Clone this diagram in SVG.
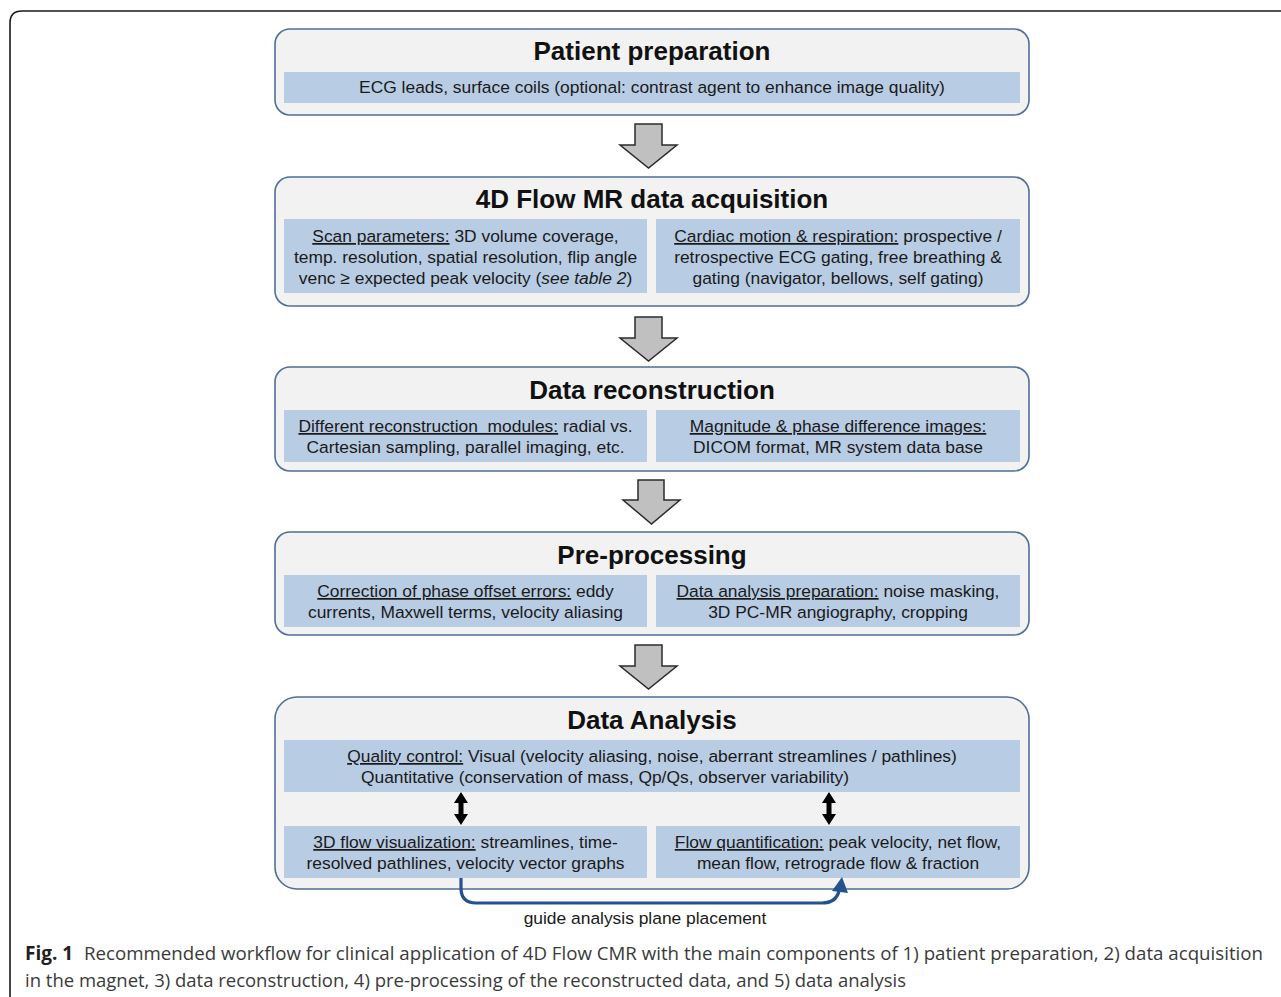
<svg xmlns="http://www.w3.org/2000/svg" width="1281" height="997" viewBox="0 0 1281 997">
<style>
.frame{fill:none;stroke:#1a1a1a;stroke-width:1.6}
.box{fill:#f2f2f2;stroke:#4f6f99;stroke-width:1.6}
.band{fill:#b8cce4}
.title{font-family:"Liberation Sans",Arial,sans-serif;font-weight:bold;font-size:26px;fill:#111;text-anchor:middle}
.body{font-family:"Liberation Sans",Arial,sans-serif;font-size:17.4px;fill:#1a1a1a;text-anchor:middle}
.u{text-decoration:underline}
.blk{fill:#c0c0c0;stroke:#2b2b2b;stroke-width:1.5;stroke-linejoin:miter}
.dbl{fill:#000}
.guide{fill:none;stroke:#23528f;stroke-width:3.2}
.cap{font-family:"Open Sans","Noto Sans",sans-serif;font-size:19px;fill:#3a3a3a}
.capb{font-family:"Open Sans","Noto Sans",sans-serif;font-size:19px;font-weight:bold;fill:#231f20}
</style>
<rect width="1281" height="997" fill="#fff"/>
<path class="frame" d="M10,1010 L10,23 Q10,11 22,11 L1300,11"/>

<g id="patient-preparation">
<rect class="box" x="275" y="29" width="754" height="86" rx="15"/>
<rect class="band" x="284" y="72" width="736" height="31"/>
<text class="title" x="652" y="60">Patient preparation</text>
<text class="body" x="652" y="93">ECG leads, surface coils (optional: contrast agent to enhance image quality)</text>
</g>

<g id="acquisition">
<rect class="box" x="275" y="177" width="754" height="129" rx="15"/>
<rect class="band" x="284" y="219" width="363" height="74"/>
<rect class="band" x="656" y="219" width="364" height="74"/>
<text class="title" x="652" y="208">4D Flow MR data acquisition</text>
<text class="body" x="465.5" y="242"><tspan class="u">Scan parameters:</tspan> 3D volume coverage,</text>
<text class="body" x="465.5" y="263">temp. resolution, spatial resolution, flip angle</text>
<text class="body" x="465.5" y="284">venc ≥ expected peak velocity (<tspan font-style="italic">see table 2</tspan>)</text>
<text class="body" x="838" y="242"><tspan class="u">Cardiac motion &amp; respiration:</tspan> prospective /</text>
<text class="body" x="838" y="263">retrospective ECG gating, free breathing &amp;</text>
<text class="body" x="838" y="284">gating (navigator, bellows, self gating)</text>
</g>

<g id="reconstruction">
<rect class="box" x="275" y="367" width="754" height="104" rx="15"/>
<rect class="band" x="284" y="410" width="363" height="52"/>
<rect class="band" x="656" y="410" width="364" height="52"/>
<text class="title" x="652" y="399">Data reconstruction</text>
<text class="body" x="465.5" y="432"><tspan class="u" xml:space="preserve">Different reconstruction  modules:</tspan> radial vs.</text>
<text class="body" x="465.5" y="453">Cartesian sampling, parallel imaging, etc.</text>
<text class="body" x="838" y="432"><tspan class="u">Magnitude &amp; phase difference images:</tspan></text>
<text class="body" x="838" y="453">DICOM format, MR system data base</text>
</g>

<g id="pre-processing">
<rect class="box" x="275" y="532" width="754" height="103" rx="15"/>
<rect class="band" x="284" y="575" width="363" height="52"/>
<rect class="band" x="656" y="575" width="364" height="52"/>
<text class="title" x="652" y="564">Pre-processing</text>
<text class="body" x="465.5" y="597"><tspan class="u">Correction of phase offset errors:</tspan> eddy</text>
<text class="body" x="465.5" y="618">currents, Maxwell terms, velocity aliasing</text>
<text class="body" x="838" y="597"><tspan class="u">Data analysis preparation:</tspan> noise masking,</text>
<text class="body" x="838" y="618">3D PC-MR angiography, cropping</text>
</g>

<g id="data-analysis">
<rect class="box" x="275" y="697" width="754" height="192" rx="22"/>
<text class="title" x="652" y="729">Data Analysis</text>
<g id="quality-control">
<rect class="band" x="284" y="740" width="736" height="52"/>
<text class="body" x="652" y="762"><tspan class="u">Quality control:</tspan> Visual (velocity aliasing, noise, aberrant streamlines / pathlines)</text>
<text class="body" x="361" y="783" style="text-anchor:start">Quantitative (conservation of mass, Qp/Qs, observer variability)</text>
</g>
<g id="flow-visualization">
<rect class="band" x="284" y="826" width="363" height="52"/>
<text class="body" x="465.5" y="848"><tspan class="u">3D flow visualization:</tspan> streamlines, time-</text>
<text class="body" x="465.5" y="869">resolved pathlines, velocity vector graphs</text>
</g>
<g id="flow-quantification">
<rect class="band" x="656" y="826" width="364" height="52"/>
<text class="body" x="838" y="848"><tspan class="u">Flow quantification:</tspan> peak velocity, net flow,</text>
<text class="body" x="838" y="869">mean flow, retrograde flow &amp; fraction</text>
</g>
</g>

<g id="connectors">
<polygon class="blk" points="635,124 662,124 662,145 677,145 648.5,168 620,145 635,145"/>
<polygon class="blk" points="635,317 662,317 662,338 677,338 648.5,361 620,338 635,338"/>
<polygon class="blk" points="638,480 664,480 664,500 680,500 651.5,524 623,500 638,500"/>
<polygon class="blk" points="635,645 662,645 662,666 677,666 648.5,689 620,666 635,666"/>
<path class="dbl" d="M461,792 L468,803 L463.5,803 L463.5,814 L468,814 L461,825 L454,814 L458.5,814 L458.5,803 L454,803 Z"/>
<path class="dbl" d="M829,792 L836,803 L831.5,803 L831.5,814 L836,814 L829,825 L822,814 L826.5,814 L826.5,803 L822,803 Z"/>
<path class="guide" d="M461,878 L461,888 Q461,903 476,903 L822,903 Q836,903 839,891"/>
<polygon fill="#23528f" points="842,877 848,893 832,891"/>
<text class="body" x="645" y="924">guide analysis plane placement</text>
</g>

<g id="caption">
<text class="capb" x="25" y="960">Fig. 1</text>
<text class="cap" x="84" y="960" textLength="1179" lengthAdjust="spacingAndGlyphs">Recommended workflow for clinical application of 4D Flow CMR with the main components of 1) patient preparation, 2) data acquisition</text>
<text class="cap" x="25" y="987" textLength="881" lengthAdjust="spacingAndGlyphs">in the magnet, 3) data reconstruction, 4) pre-processing of the reconstructed data, and 5) data analysis</text>
</g>
</svg>
